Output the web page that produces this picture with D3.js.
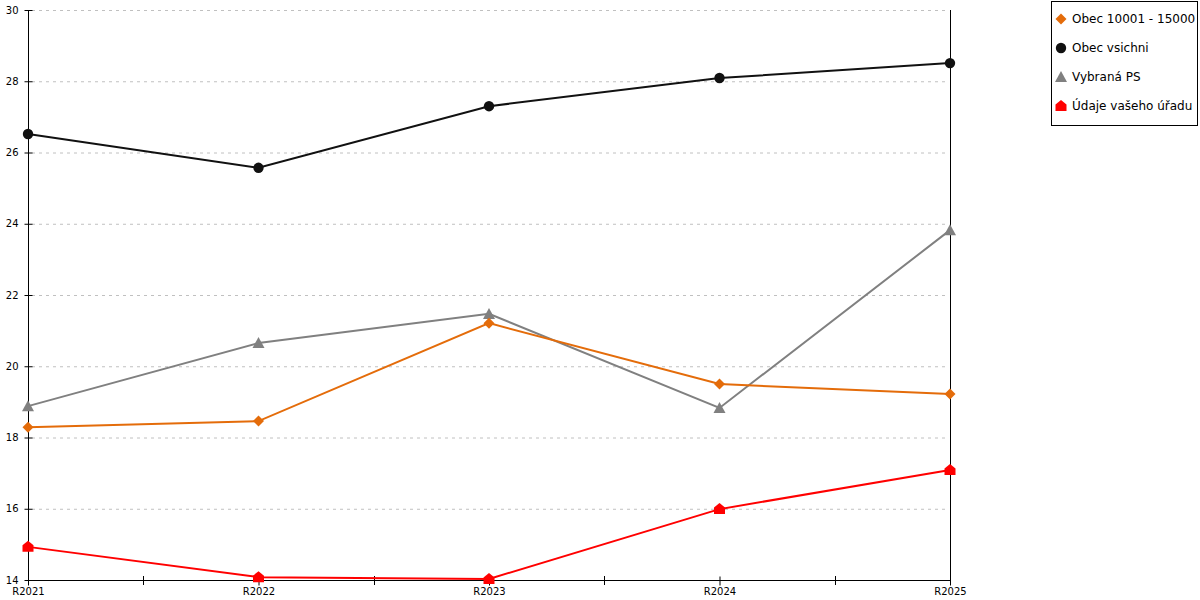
<!DOCTYPE html>
<html><head><meta charset="utf-8">
<script src="https://cdn.jsdelivr.net/npm/d3@7"></script>
<style>body{margin:0;background:#fff}svg{display:block}text{font-family:"DejaVu Sans",sans-serif}</style>
</head><body><svg id="c" width="1200" height="600"></svg>
<script>
const categories = ["R2021","R2022","R2023","R2024","R2025"];
const seriesNames = ["Obec 10001 - 15000","Obec vsichni","Vybraná PS","Údaje vašeho úřadu"];
const obec10001 = [18.29, 18.46, 21.21, 19.50, 19.22];
const obecVsichni = [26.52, 25.57, 27.30, 28.09, 28.51];
const vybranaPS = [18.88, 20.65, 21.47, 18.83, 23.82];
const udajeUradu = [14.93, 14.08, 14.03, 15.99, 17.09];
const yTicks = [14,16,18,20,22,24,26,28,30];
const colors = ["#e46c0a","#111111","#808080","#ff0000"];
const shapes = ["diamond","circle","triangle","house"];
const allSeries = [obec10001, obecVsichni, vybranaPS, udajeUradu];

const svg = d3.select("#c");
const x = d3.scalePoint().domain(categories).range([28, 950]);
const y = d3.scaleLinear().domain([14, 30]).range([580, 10]);

// grid
svg.append("g").selectAll("line").data(yTicks.slice(1)).join("line")
  .attr("x1", 32).attr("x2", 947)
  .attr("y1", d => y(d)+0.5).attr("y2", d => y(d)+0.5)
  .attr("stroke", "#c0c0c0").attr("stroke-dasharray", "3,4");

// left axis
const yAxis = svg.append("g").attr("transform", "translate(28.5,0)")
  .call(d3.axisLeft(y).tickValues(yTicks).tickSize(4).tickPadding(6));
yAxis.select(".domain").attr("d", `M0,${y(30)}V${y(14)}`);
yAxis.selectAll(".tick line").attr("x2", 4).attr("x1", -4).attr("stroke","#000");
yAxis.selectAll("text").attr("font-size", 10).attr("fill", "#000")
  .attr("font-family", "DejaVu Sans");
// right line
svg.append("line").attr("x1", 950.5).attr("x2", 950.5).attr("y1", y(30)).attr("y2", 585)
  .attr("stroke", "#000");

// bottom axis
const xAxis = svg.append("g").attr("transform", "translate(0,580.5)")
  .call(d3.axisBottom(x).tickSize(5).tickPadding(2));
xAxis.select(".domain").attr("d", `M${x("R2021")},0H${x("R2025")}`);
xAxis.selectAll(".tick line").attr("y1", -4).attr("y2", 5).attr("stroke","#000");
xAxis.selectAll("text").attr("font-size", 10).attr("fill", "#000")
  .attr("font-family", "DejaVu Sans");
// minor ticks between categories
const mids = categories.slice(0, -1).map((c, i) => (x(c) + x(categories[i+1])) / 2);
svg.append("g").selectAll("line").data(mids).join("line")
  .attr("x1", d => Math.round(d)+0.5).attr("x2", d => Math.round(d)+0.5)
  .attr("y1", 576).attr("y2", 585).attr("stroke", "#000");

function shapePath(s) {
  if (s === "diamond") return "M0,-5.5L5.5,0L0,5.5L-5.5,0Z";
  if (s === "circle") return d3.symbol(d3.symbolCircle, 85)();
  if (s === "triangle") return "M0,-6L6,5L-6,5Z";
  return "M0,-6L5.5,-1.5V5H-5.5V-1.5Z";
}

const line = d3.line().x((d, i) => x(categories[i])).y(d => y(d));
// draw order: gray, orange, black, red
[2, 0, 1, 3].forEach(k => {
  const data = allSeries[k];
  svg.append("path").datum(data).attr("d", line).attr("fill", "none")
    .attr("stroke", colors[k]).attr("stroke-width", 2);
});
[2, 0, 1, 3].forEach(k => {
  const data = allSeries[k];
  svg.append("g").selectAll("path").data(data).join("path")
    .attr("transform", (d, i) => `translate(${x(categories[i])},${y(d)})`)
    .attr("d", shapePath(shapes[k])).attr("fill", colors[k]);
});

// legend
const lg = svg.append("g");
lg.append("rect").attr("x", 1051.5).attr("y", 1.5).attr("width", 146).attr("height", 124)
  .attr("fill", "#fff").attr("stroke", "#000");
seriesNames.forEach((n, i) => {
  const cy = 19 + i * 29;
  lg.append("path").attr("transform", `translate(1061,${cy})`)
    .attr("d", shapePath(shapes[i])).attr("fill", colors[i]);
  lg.append("text").attr("x", 1072).attr("y", cy).attr("dy", "0.35em")
    .attr("font-size", 12).attr("fill", "#000").text(n);
});
</script></body></html>
